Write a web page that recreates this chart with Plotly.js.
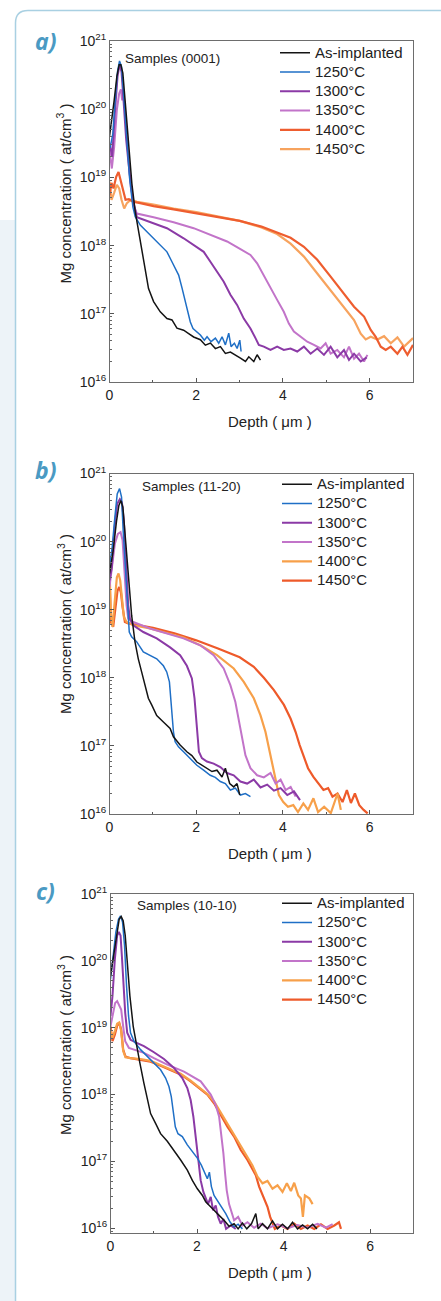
<!DOCTYPE html>
<html><head><meta charset="utf-8">
<script src="https://cdn.plot.ly/plotly-3.0.1.min.js"></script>
<style>html,body{margin:0;padding:0;background:#fff}#chart{width:441px;height:1301px}</style>
</head><body><div id="chart"></div>
<script>
// ---------- labels ----------
const seriesNames = ['As-implanted', '1250°C', '1300°C', '1350°C', '1400°C', '1450°C'];
const panelLabels = ['a)', 'b)', 'c)'];
const sampleLabels = ['Samples (0001)', 'Samples (11-20)', 'Samples (10-10)'];
const yTitleText = 'Mg concentration ( at/cm<sup>3</sup> )';
const xTitleText = 'Depth ( μm )';

// ---------- panel a (0001) : depth (µm), Mg concentration (at/cm3) ----------
const a_asimp_x = [0,0.054,0.108,0.17,0.223,0.262,0.308,0.362,0.439,0.516,0.593,0.67,0.747,0.824,0.90,1.017,1.171,1.325,1.441,1.556,1.71,1.826,1.941,2.096,2.211,2.327,2.442,2.558,2.673,2.789,2.904,3.02,3.136,3.213,3.328,3.405,3.482];
const a_asimp_y = [3.98e19,6.92e19,1.35e20,3.02e20,4.47e20,4.47e20,3.39e20,1.29e20,3.16e19,8.13e18,3.16e18,1.70e18,9.12e17,4.68e17,2.34e17,1.51e17,1.07e17,8.51e16,8.13e16,6.17e16,5.75e16,5.13e16,4.57e16,4.17e16,3.47e16,3.72e16,3.09e16,3.31e16,2.63e16,2.75e16,2.51e16,2.24e16,2.0e16,2.34e16,2.0e16,2.51e16,2.09e16];
const a_1250_x = [0.015,0.077,0.131,0.185,0.231,0.277,0.324,0.385,0.462,0.539,0.593,0.709,0.863,1.017,1.171,1.325,1.44,1.518,1.595,1.672,1.749,1.826,1.864,1.926,2.018,2.096,2.188,2.25,2.342,2.442,2.519,2.596,2.673,2.75,2.804,2.881,2.943,3.005,3.035];
const a_1250_y = [2.7e19,4.4e19,1.36e20,3.55e20,5.1e20,4.2e20,1.7e20,4.4e19,1.0e19,3.7e18,2.65e18,2.0e18,1.6e18,1.28e18,1.02e18,8.1e17,5.8e17,4.6e17,3.7e17,2.4e17,1.5e17,9.6e16,7.6e16,6.1e16,5.5e16,4.9e16,4.1e16,4.6e16,3.9e16,4.4e16,3.7e16,4.6e16,3.5e16,5.2e16,3.3e16,3.7e16,3.1e16,4.1e16,2.8e16];
const a_1300_x = [0,0.062,0.123,0.185,0.231,0.277,0.324,0.385,0.462,0.539,0.632,0.94,1.325,1.71,1.941,2.173,2.327,2.481,2.635,2.789,2.943,3.097,3.251,3.367,3.444,3.559,3.713,3.867,4.02,4.176,4.33,4.484,4.638,4.792,4.946,5.1,5.254,5.408,5.524,5.64,5.794,5.932];
const a_1300_y = [3.2e19,2.0e19,8.7e19,3.0e20,4.5e20,3.55e20,1.35e20,3.55e19,1.15e19,4.7e18,2.6e18,2.2e18,1.8e18,1.28e18,1.02e18,8.1e17,5.8e17,4.1e17,2.95e17,1.9e17,1.35e17,8.5e16,6.1e16,4.4e16,3.5e16,3.3e16,2.95e16,3.3e16,2.95e16,3.1e16,2.8e16,3.3e16,2.6e16,3.1e16,2.5e16,3.3e16,2.3e16,2.95e16,2.1e16,2.6e16,2.0e16,2.3e16];
const a_1350_x = [0,0.054,0.108,0.17,0.223,0.262,0.293,0.324,0.37,0.431,0.493,0.57,0.632,1.017,1.479,1.941,2.327,2.712,3.02,3.251,3.405,3.559,3.713,3.867,4.02,4.137,4.253,4.407,4.561,4.715,4.869,4.985,5.1,5.254,5.408,5.524,5.64,5.755,5.871,5.948];
const a_1350_y = [2.5e19,1.35e19,2.8e19,9.8e19,1.7e20,1.95e20,1.35e20,1.8e20,7.8e19,2.0e19,7.2e18,3.7e18,2.95e18,2.6e18,2.2e18,1.8e18,1.43e18,1.15e18,8.9e17,7.3e17,5.5e17,3.7e17,2.5e17,1.6e17,1.07e17,7.2e16,5.5e16,4.6e16,3.9e16,3.5e16,3.1e16,3.7e16,2.6e16,2.95e16,2.3e16,3.3e16,2.2e16,2.6e16,2.0e16,2.5e16];
const a_1400_x = [0,0.046,0.092,0.154,0.208,0.262,0.308,0.37,0.447,0.539,0.709,1.017,1.479,2.0,2.481,3.005,3.505,3.867,4.176,4.484,4.792,5.1,5.408,5.64,5.871,6.025,6.14,6.256,6.371,6.487,6.641,6.757,6.872,7.0];
const a_1400_y = [5.5e18,8.3e18,6.9e18,1.02e19,1.2e19,8.7e18,6.9e18,4.7e18,4.8e18,4.4e18,4.2e18,3.8e18,3.4e18,3.0e18,2.65e18,2.3e18,1.9e18,1.55e18,1.3e18,9.6e17,6.2e17,3.5e17,2.0e17,1.27e17,9.1e16,5.8e16,4.6e16,3.3e16,2.95e16,3.3e16,2.6e16,3.3e16,2.5e16,3.5e16];
const a_1450_x = [0,0.046,0.108,0.17,0.223,0.277,0.339,0.401,0.493,0.632,1.017,1.479,2.0,2.481,3.005,3.505,3.867,4.176,4.484,4.792,5.1,5.408,5.64,5.794,5.909,6.025,6.179,6.333,6.487,6.641,6.795,7.0];
const a_1450_y = [8.7e18,4.7e18,6.0e18,7.8e18,6.9e18,4.7e18,3.5e18,4.2e18,4.7e18,4.4e18,4.0e18,3.5e18,3.1e18,2.7e18,2.3e18,1.85e18,1.48e18,1.07e18,6.9e17,3.9e17,2.2e17,1.27e17,8.1e16,5.1e16,4.2e16,4.6e16,4.2e16,4.7e16,3.7e16,4.5e16,3.3e16,4.4e16];

// ---------- panel b (11-20) ----------
const b_asimp_x = [0,0.085,0.162,0.216,0.263,0.309,0.355,0.432,0.51,0.587,0.664,0.741,0.819,0.896,0.973,1.089,1.243,1.398,1.475,1.629,1.784,1.9,2.015,2.131,2.247,2.363,2.479,2.595,2.672,2.772,2.865,2.942,3.004];
const b_asimp_y = [3.4e19,7.4e19,2.0e20,3.4e20,4.0e20,3.2e20,1.38e20,3.2e19,8.3e18,3.4e18,1.9e18,1.22e18,7.8e17,5.0e17,4.0e17,2.8e17,2.25e17,1.8e17,1.36e17,1.03e17,8.2e16,7.2e16,5.8e16,5.2e16,4.7e16,4.2e16,4.4e16,3.5e16,4.7e16,2.8e16,2.5e16,2.8e16,1.9e16];
const b_1250_x = [0,0.062,0.124,0.178,0.232,0.278,0.317,0.378,0.432,0.456,0.51,0.625,0.78,0.934,1.089,1.243,1.32,1.382,1.413,1.444,1.475,1.514,1.591,1.707,1.861,2.015,2.17,2.324,2.44,2.556,2.672,2.788,2.903,3.019,3.135,3.251];
const b_1250_y = [4.2e19,8.3e19,2.3e20,5.0e20,6.0e20,4.5e20,1.38e20,2.6e19,8.3e18,4.7e18,4.0e18,3.4e18,2.4e18,2.15e18,1.9e18,1.5e18,1.22e18,8.7e17,5.0e17,2.5e17,1.6e17,1.15e17,9.7e16,8.2e16,6.6e16,5.2e16,4.4e16,3.7e16,3.45e16,3.0e16,2.8e16,2.25e16,2.4e16,1.9e16,2.0e16,1.8e16];
const b_1300_x = [0,0.054,0.116,0.178,0.239,0.286,0.332,0.378,0.432,0.471,0.548,0.78,1.089,1.398,1.629,1.784,1.9,1.961,2.0,2.031,2.062,2.131,2.247,2.402,2.556,2.71,2.865,3.019,3.174,3.328,3.483,3.637,3.792,3.946,4.1,4.255,4.394];
const b_1300_y = [2.7e19,4.2e19,1.6e20,3.6e20,4.2e20,3.8e20,2.0e20,4.5e19,1.16e19,7.4e18,5.9e18,4.7e18,3.8e18,2.8e18,2.15e18,1.5e18,9.8e17,5.0e17,2.5e17,1.29e17,8.2e16,6.6e16,5.9e16,5.5e16,4.9e16,4.0e16,3.7e16,3.0e16,2.8e16,3.2e16,2.45e16,2.7e16,2.2e16,2.4e16,1.9e16,2.15e16,1.6e16];
const b_1350_x = [0,0.054,0.124,0.193,0.255,0.301,0.332,0.394,0.432,0.548,0.934,1.32,1.707,2.093,2.402,2.633,2.788,2.903,2.981,3.058,3.135,3.251,3.405,3.56,3.714,3.83,3.946,4.062,4.178,4.293];
const b_1350_y = [2.15e19,4.2e19,9.3e19,1.3e20,1.38e20,1.05e20,4.5e19,1.16e19,7.4e18,6.6e18,5.3e18,4.5e18,3.8e18,3.0e18,2.15e18,1.37e18,7.8e17,4.4e17,2.5e17,1.29e17,7.3e16,4.7e16,3.7e16,3.45e16,4.0e16,2.8e16,3.2e16,2.25e16,2.5e16,1.8e16];
const b_1400_x = [0,0.031,0.069,0.124,0.17,0.208,0.247,0.286,0.332,0.394,0.548,0.934,1.32,1.707,2.093,2.479,2.865,3.097,3.328,3.483,3.598,3.676,3.753,3.83,3.907,4.008,4.116,4.239,4.347,4.471,4.579,4.703,4.811,4.95,5.104,5.259,5.336];
const b_1400_y = [4.2e19,8.8e18,5.6e18,1.5e19,3.0e19,3.4e19,2.7e19,1.5e19,7.8e18,6.6e18,5.9e18,5.3e18,4.6e18,3.9e18,3.0e18,2.15e18,1.37e18,8.7e17,5.0e17,2.8e17,1.6e17,9.1e16,5.2e16,3.0e16,1.9e16,1.5e16,1.28e16,1.35e16,1.07e16,1.43e16,1.15e16,1.7e16,1.07e16,1.28e16,1.03e16,2.0e16,1.15e16];
const b_1450_x = [0,0.031,0.085,0.139,0.185,0.224,0.263,0.301,0.355,0.432,0.548,1.004,1.498,2.0,2.502,3.004,3.328,3.56,3.792,4.023,4.178,4.293,4.386,4.486,4.579,4.703,4.834,4.934,5.042,5.143,5.259,5.375,5.475,5.568,5.66,5.761,5.861,5.954];
const b_1450_y = [3.4e19,6.6e18,5.6e18,1.1e19,1.9e19,2.15e19,1.8e19,1.1e19,6.6e18,6.3e18,6.1e18,5.4e18,4.5e18,3.55e18,2.7e18,2.0e18,1.45e18,1.0e18,6.6e17,4.0e17,2.5e17,1.6e17,1.03e17,6.9e16,4.7e16,3.5e16,2.7e16,2.25e16,2.4e16,1.8e16,2.0e16,1.5e16,2.25e16,1.45e16,2.0e16,1.35e16,1.15e16,1.02e16];

// ---------- panel c (10-10) ----------
const c_asimp_x = [0,0.077,0.154,0.201,0.247,0.293,0.34,0.386,0.448,0.525,0.602,0.68,0.772,0.849,0.927,1.042,1.158,1.313,1.467,1.622,1.776,1.892,2.008,2.124,2.201,2.278,2.394,2.51,2.625,2.741,2.857,2.95,3.05,3.151,3.259,3.359,3.413,3.514,3.629,3.745,3.861,3.977,4.093,4.208,4.324,4.44,4.556,4.672,4.772];
const c_asimp_y = [5.9e19,1.33e20,3.0e20,4.2e20,4.6e20,4.0e20,2.4e20,1.05e20,3.0e19,1.05e19,5.3e18,2.95e18,1.48e18,8.3e17,5.2e17,3.7e17,2.6e17,2.0e17,1.48e17,1.05e17,7.4e16,5.2e16,3.9e16,3.1e16,2.5e16,2.2e16,1.86e16,1.56e16,1.32e16,1.07e16,1.17e16,9.8e15,1.2e16,9.8e15,1.17e16,1.66e16,9.8e15,1.17e16,9.8e15,1.29e16,9.8e15,1.15e16,9.8e15,1.23e16,9.8e15,1.12e16,9.8e15,1.15e16,9.8e15];
const c_1250_x = [0,0.062,0.124,0.185,0.232,0.278,0.324,0.371,0.417,0.463,0.541,0.695,0.849,1.004,1.158,1.274,1.351,1.405,1.452,1.498,1.56,1.66,1.776,1.892,2.008,2.1,2.178,2.239,2.286,2.332,2.394,2.471,2.564,2.664,2.764,2.857,2.95,3.05];
const c_1250_y = [5.3e19,1.18e20,2.7e20,4.2e20,4.7e20,3.8e20,1.7e20,4.2e19,1.5e19,8.4e18,6.3e18,4.7e18,3.7e18,3.0e18,2.35e18,1.77e18,1.32e18,9.3e17,5.9e17,3.3e17,2.6e17,2.35e17,1.77e17,1.4e17,1.12e17,8.8e16,6.6e16,5.5e16,6.9e16,4.2e16,3.1e16,2.6e16,2.1e16,1.66e16,1.24e16,1.05e16,1.15e16,9.8e15];
const c_1300_x = [0,0.046,0.1,0.154,0.193,0.232,0.263,0.293,0.34,0.386,0.463,0.618,0.772,1.004,1.236,1.467,1.66,1.776,1.853,1.915,1.961,2.0,2.039,2.085,2.147,2.201,2.255,2.317,2.371,2.432,2.486,2.548,2.61,2.672,2.78,2.896];
const c_1300_y = [1.5e19,3.0e19,1.05e20,2.4e20,2.7e20,2.4e20,1.18e20,4.7e19,1.67e19,8.4e18,6.6e18,5.9e18,5.3e18,4.3e18,3.4e18,2.5e18,1.77e18,1.25e18,8.3e17,4.7e17,2.6e17,1.48e17,8.3e16,5.2e16,3.5e16,2.8e16,2.3e16,2.95e16,1.86e16,2.2e16,1.48e16,1.17e16,1.38e16,9.8e15,1.1e16,9.8e15];
const c_1350_x = [0,0.054,0.108,0.154,0.201,0.247,0.293,0.34,0.425,0.541,0.772,1.004,1.313,1.699,2.085,2.317,2.432,2.51,2.564,2.61,2.649,2.687,2.741,2.795,2.857,2.95,3.05,3.166,3.32,3.475,3.629,3.861,4.093,4.324,4.556,4.788,4.981,5.135];
const c_1350_y = [1.05e19,1.67e19,2.35e19,2.5e19,2.2e19,1.87e19,1.05e19,6.3e18,5.0e18,4.7e18,4.2e18,3.5e18,2.8e18,2.2e18,1.58e18,1.0e18,7.0e17,4.7e17,2.6e17,1.32e17,6.6e16,3.7e16,2.3e16,1.75e16,1.32e16,1.48e16,1.1e16,1.23e16,1.02e16,1.17e16,1.0e16,1.15e16,1.0e16,1.12e16,1.02e16,1.17e16,1.02e16,1.15e16];
const c_1400_x = [0,0.046,0.1,0.154,0.201,0.247,0.293,0.347,0.463,0.695,0.927,1.158,1.39,1.622,1.853,2.085,2.239,2.394,2.548,2.703,2.857,3.012,3.166,3.282,3.398,3.514,3.629,3.745,3.861,3.977,4.077,4.17,4.247,4.34,4.402,4.448,4.494,4.595,4.672];
const c_1400_y = [9.4e18,7.1e18,8.9e18,1.15e19,1.2e19,8.9e18,4.5e18,3.6e18,3.5e18,3.4e18,3.2e18,2.75e18,2.4e18,2.05e18,1.62e18,1.23e18,1.02e18,7.9e17,5.4e17,3.6e17,2.5e17,1.66e17,1.15e17,8.7e16,5.9e16,4.7e16,5.1e16,3.9e16,4.4e16,3.5e16,4.7e16,3.6e16,4.8e16,3.1e16,2.8e16,1.48e16,3.1e16,2.8e16,2.3e16];
const c_1450_x = [0,0.046,0.1,0.154,0.201,0.247,0.293,0.347,0.463,0.695,0.927,1.158,1.39,1.622,1.853,2.085,2.239,2.394,2.548,2.703,2.857,3.012,3.166,3.282,3.359,3.436,3.552,3.629,3.691,3.745,3.799,3.938,4.093,4.247,4.402,4.556,4.71,4.865,5.019,5.174,5.282,5.328];
const c_1450_y = [1.05e19,6.3e18,7.9e18,1.07e19,1.18e19,9.4e18,4.7e18,3.7e18,3.5e18,3.3e18,3.1e18,2.7e18,2.35e18,2.0e18,1.58e18,1.18e18,1.0e18,7.4e17,5.0e17,3.3e17,2.35e17,1.48e17,1.05e17,7.8e16,6.2e16,4.2e16,2.8e16,2.1e16,1.48e16,1.17e16,9.8e15,1.1e16,9.8e15,1.17e16,9.8e15,1.1e16,9.8e15,1.15e16,9.8e15,1.1e16,1.23e16,9.8e15];

// ---------- styles ----------
const W = 441, H = 1301;
const FONT = 'Liberation Sans, Arial, Helvetica, sans-serif';
const colorsA  = ['#141414', '#1f6fc6', '#8b3aa6', '#c274c9', '#ee5d2f', '#f7a35e'];
const colorsBC = ['#141414', '#1f6fc6', '#8b3aa6', '#c274c9', '#f7a04a', '#ee5a2a'];
const widths = [1.5, 1.5, 2, 2, 2.2, 2.2];

const panelData = [
  [[a_asimp_x, a_asimp_y], [a_1250_x, a_1250_y], [a_1300_x, a_1300_y], [a_1350_x, a_1350_y], [a_1400_x, a_1400_y], [a_1450_x, a_1450_y]],
  [[b_asimp_x, b_asimp_y], [b_1250_x, b_1250_y], [b_1300_x, b_1300_y], [b_1350_x, b_1350_y], [b_1400_x, b_1400_y], [b_1450_x, b_1450_y]],
  [[c_asimp_x, c_asimp_y], [c_1250_x, c_1250_y], [c_1300_x, c_1300_y], [c_1350_x, c_1350_y], [c_1400_x, c_1400_y], [c_1450_x, c_1450_y]]
];

// panel geometry in figure pixels
const geo = [
  {l: 109.5, r: 413,   t: 41,    b: 382,    yr: [16, 21],     legX: 275, legTop: 38.2,  samX: 123, samY: 58,    labY: 41,  yTitY: 193.5, xTitY: 421.7, colors: colorsA},
  {l: 109.5, r: 413,   t: 473.5, b: 814,    yr: [16, 21],     legX: 277, legTop: 469.7, samX: 140, samY: 486.7, labY: 470, yTitY: 624,   xTitY: 853.3, colors: colorsBC},
  {l: 110.5, r: 413.3, t: 894,   b: 1233.3, yr: [15.925, 21], legX: 277, legTop: 888.7, samX: 135, samY: 905,   labY: 891, yTitY: 1045,  xTitY: 1272.3, colors: colorsBC}
];
const fx = v => v / W;
const fy = v => 1 - v / H;

const traces = [];
const layout = {
  width: W, height: H,
  margin: {l: 0, r: 0, t: 0, b: 0, pad: 0},
  paper_bgcolor: '#ffffff', plot_bgcolor: '#ffffff',
  font: {family: FONT, color: '#222222'},
  showlegend: true,
  annotations: [],
  shapes: [
    {type: 'rect', xref: 'paper', yref: 'paper', x0: 0, x1: fx(15), y0: 0, y1: fy(220),
     fillcolor: '#edf3f8', line: {width: 0}, layer: 'below'},
    {type: 'path', xref: 'paper', yref: 'paper',
     path: 'M 1.01,' + fy(10.5) + ' L ' + fx(28) + ',' + fy(10.5) + ' Q ' + fx(15.5) + ',' + fy(10.5) + ' ' + fx(15.5) + ',' + fy(23) + ' L ' + fx(15.5) + ',' + fy(1302),
     line: {color: '#a9d0e2', width: 1.5}, layer: 'below'}
  ]
};

geo.forEach((g, p) => {
  const sfx = p === 0 ? '' : String(p + 1);
  const xa = 'xaxis' + sfx, ya = 'yaxis' + sfx, leg = 'legend' + sfx;
  layout[xa] = {
    domain: [fx(g.l), fx(g.r)], anchor: 'y' + sfx, range: [0, 7],
    tick0: 0, dtick: 2, ticks: 'inside', ticklen: 4, tickwidth: 1, tickcolor: '#555',
    minor: {dtick: 1, ticks: 'inside', ticklen: 2.5, tickcolor: '#555', showgrid: false},
    showline: true, linecolor: '#6d6d6d', linewidth: 1, mirror: true,
    showgrid: false, zeroline: false, fixedrange: true,
    tickfont: {family: FONT, size: 14, color: '#222'}
  };
  layout[ya] = {
    domain: [fy(g.b), fy(g.t)], anchor: 'x' + sfx, type: 'log', range: g.yr,
    tick0: 0, dtick: 1, exponentformat: 'power',
    ticks: 'inside', ticklen: 4, tickwidth: 1, tickcolor: '#555',
    minor: {dtick: 'D1', ticks: 'inside', ticklen: 2, tickcolor: '#666', showgrid: false},
    showline: true, linecolor: '#6d6d6d', linewidth: 1, mirror: true,
    showgrid: false, zeroline: false, fixedrange: true,
    tickfont: {family: FONT, size: 11.2, color: '#222'}
  };
  layout[leg] = {
    x: fx(g.legX), y: fy(g.legTop), xanchor: 'left', yanchor: 'top',
    xref: 'paper', yref: 'paper',
    bgcolor: 'rgba(0,0,0,0)', borderwidth: 0,
    font: {family: FONT, size: 12.5, color: '#222'},
    itemwidth: 30, tracegroupgap: 0, traceorder: 'normal'
  };
  // draw order: high temperatures first, as-implanted on top
  for (let s = seriesNames.length - 1; s >= 0; s--) {
    traces.push({
      type: 'scatter', mode: 'lines',
      x: panelData[p][s][0], y: panelData[p][s][1],
      xaxis: 'x' + sfx, yaxis: 'y' + sfx, legend: leg,
      name: '<span style="font-size:15px">' + seriesNames[s] + '</span>',
      legendrank: s + 1,
      line: {color: g.colors[s], width: widths[s]},
      hoverinfo: 'skip'
    });
  }
  layout.annotations.push(
    {xref: 'paper', yref: 'paper', x: fx(45), y: fy(g.labY), xanchor: 'center', yanchor: 'middle',
     text: '<b><i>' + panelLabels[p] + '</i></b>', showarrow: false,
     font: {family: 'Open Sans, Liberation Sans, sans-serif', size: 23, color: '#4a9ac3'}},
    {xref: 'paper', yref: 'paper', x: fx(g.samX), y: fy(g.samY), xanchor: 'left', yanchor: 'middle',
     text: sampleLabels[p], showarrow: false, font: {family: FONT, size: 13.5, color: '#222'}},
    {xref: 'paper', yref: 'paper', x: fx(64), y: fy(g.yTitY), xanchor: 'center', yanchor: 'middle',
     text: yTitleText, textangle: -90, showarrow: false, font: {family: FONT, size: 15, color: '#222'}},
    {xref: 'paper', yref: 'paper', x: fx(270), y: fy(g.xTitY), xanchor: 'center', yanchor: 'middle',
     text: xTitleText, showarrow: false, font: {family: FONT, size: 15, color: '#222'}}
  );
});

Plotly.newPlot('chart', traces, layout, {displayModeBar: false, staticPlot: true});
</script>
</body></html>
